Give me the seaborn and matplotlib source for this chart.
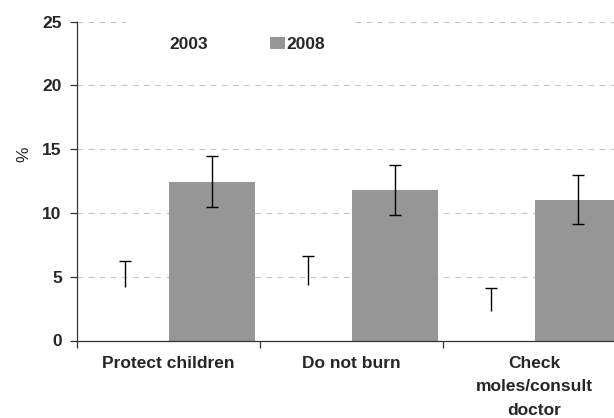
import seaborn as sns
import matplotlib.pyplot as plt
import pandas as pd

categories = ['Protect children', 'Do not burn', 'Check\nmoles/consult\ndoctor']
years = ['2003', '2008']
pct_2003 = [5.2, 5.5, 3.2]
err_2003 = [1.02, 1.14, 0.92]
pct_2008 = [12.45, 11.8, 11.05]
err_2008 = [2.0, 1.95, 1.9]

df = pd.DataFrame({
    'category': categories * 2,
    'year': [years[0]] * 3 + [years[1]] * 3,
    'pct': pct_2003 + pct_2008,
})

sns.set_style('ticks')
plt.rcParams['font.family'] = ['Liberation Sans', 'DejaVu Sans']

fig = plt.figure(figsize=(6.14, 4.18), dpi=100)
ax = fig.add_axes([77 / 614, 77.5 / 418, 549 / 614, 318.8 / 418])

sns.barplot(data=df, x='category', y='pct', hue='year',
            palette={'2003': 'white', '2008': '#969696'},
            width=0.94, errorbar=None, saturation=1, linewidth=0, ax=ax)

for cont, vals, errs, yr in zip(ax.containers, [pct_2003, pct_2008],
                                [err_2003, err_2008], years):
    xs = [p.get_x() + p.get_width() / 2 for p in cont]
    eb = ax.errorbar(xs, vals, yerr=errs, fmt='none', ecolor='black',
                     elinewidth=1.0, capsize=4.5, capthick=1.0, zorder=5)
    if yr == '2003':
        # white bars are see-through, only the upper cap shows
        for p in cont:
            p.set_facecolor('none')
        eb[1][0].set_visible(False)

ax.set_ylim(0, 25)
ax.set_xlim(-0.5, 2.5)
ax.set_yticks(range(0, 26, 5))
ax.set_xticks([-0.5, 0.5, 1.5, 2.5], minor=True)
ax.tick_params(axis='x', which='major', length=0, pad=11)
ax.tick_params(axis='x', which='minor', length=5, width=0.9, color='#333333')
ax.tick_params(axis='y', length=5, width=0.9, color='#333333', pad=6)
for lab in ax.get_xticklabels() + ax.get_yticklabels():
    lab.set_fontweight('bold')
    lab.set_fontsize(12.5)
for lab in ax.get_xticklabels():
    lab.set_linespacing(1.72)

ax.grid(axis='y', color='#c4c4c4', linestyle=(0, (5, 5)), linewidth=0.8)
ax.set_axisbelow(True)
sns.despine(ax=ax)
for s in ['left', 'bottom']:
    ax.spines[s].set_color('#333333')
    ax.spines[s].set_linewidth(0.9)

ax.set_xlabel('')
ax.set_ylabel('%', fontsize=12.5)
ax.yaxis.set_label_coords(-0.084, 0.583)

sns.move_legend(ax, 'center', bbox_to_anchor=(0.295, 0.929), ncol=2,
                title=None, frameon=True, fancybox=False,
                prop={'weight': 'bold', 'size': 12.5},
                handlelength=0.86, handleheight=0.71, handletextpad=0.1,
                columnspacing=3.6, borderpad=1.5)
leg = ax.get_legend()
leg.get_frame().set_edgecolor('white')
leg.get_frame().set_facecolor('white')
leg.get_frame().set_alpha(1)

fig.savefig('out.png', dpi=100)
